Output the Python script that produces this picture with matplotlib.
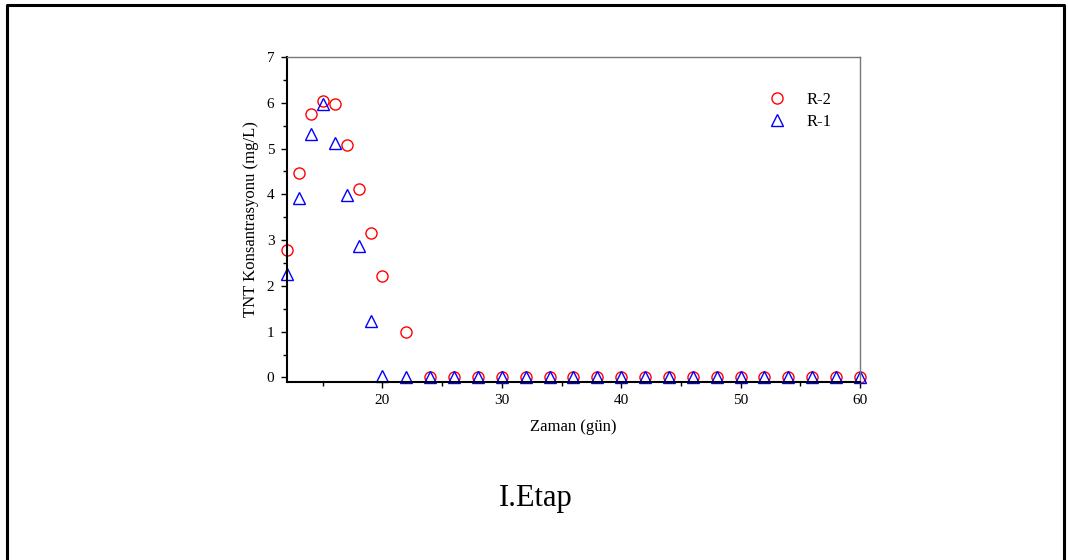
import matplotlib
matplotlib.use("Agg")
import matplotlib.pyplot as plt
from matplotlib.lines import Line2D
from matplotlib.ticker import MultipleLocator

days = [12, 13, 14, 15, 16, 17, 18, 19, 20, 22, 24, 26, 28, 30, 32, 34, 36,
        38, 40, 42, 44, 46, 48, 50, 52, 54, 56, 58, 60]
r2 = [2.78, 4.47, 5.76, 6.04, 5.98, 5.07, 4.12, 3.16, 2.22, 1.0] + [0.0] * 19
r1 = [2.25, 3.92, 5.32, 5.98, 5.13, 3.98, 2.87, 1.23, 0.04, 0.0] + [0.0] * 19

plt.rcParams["font.family"] = ["Liberation Serif", "DejaVu Serif"]

fig = plt.figure(figsize=(10.68, 5.6), dpi=100)
# page frame: left, top, right edges only
fig.lines.append(Line2D([0.0062, 0.0062, 0.9963, 0.9963], [0.0, 0.9911, 0.9911, 0.0],
                        transform=fig.transFigure, color="black", lw=2.2))
ax = fig.add_axes([0.2687, 0.3179, 0.5365, 0.5804])

ax.plot(days, r2, ls="none", marker="o", ms=8, mfc="none", mec="red", mew=1,
        label="R-2", clip_on=False)
ax.plot(days, r1, ls="none", marker="^", ms=8, mfc="none", mec="blue", mew=1,
        label="R-1", clip_on=False)

ax.set_xlim(12, 60)
ax.set_ylim(-0.1, 7)
ax.xaxis.set_major_locator(MultipleLocator(10))
ax.xaxis.set_minor_locator(MultipleLocator(5))
ax.yaxis.set_major_locator(MultipleLocator(1))
ax.yaxis.set_minor_locator(MultipleLocator(0.5))
ax.tick_params(which="both", direction="out", labelsize=11, width=1)
ax.tick_params(which="major", length=4, pad=5)
ax.tick_params(which="minor", length=3)
for s in ("left", "bottom"):
    ax.spines[s].set_linewidth(1.5)
for s in ("top", "right"):
    ax.spines[s].set_color("#777777")
    ax.spines[s].set_linewidth(1)

ax.set_xlabel("Zaman (gün)", fontsize=12, labelpad=8)
ax.set_ylabel("TNT Konsantrasyonu (mg/L)", fontsize=12, labelpad=6)
ax.legend(loc="upper right", frameon=False, fontsize=12, handletextpad=0.8,
          labelspacing=0.35, bbox_to_anchor=(0.962, 0.912), borderaxespad=0)

fig.text(0.502, 0.11, "I.Etap", ha="center", va="center", fontsize=22)

fig.savefig("out.png", dpi=100)
